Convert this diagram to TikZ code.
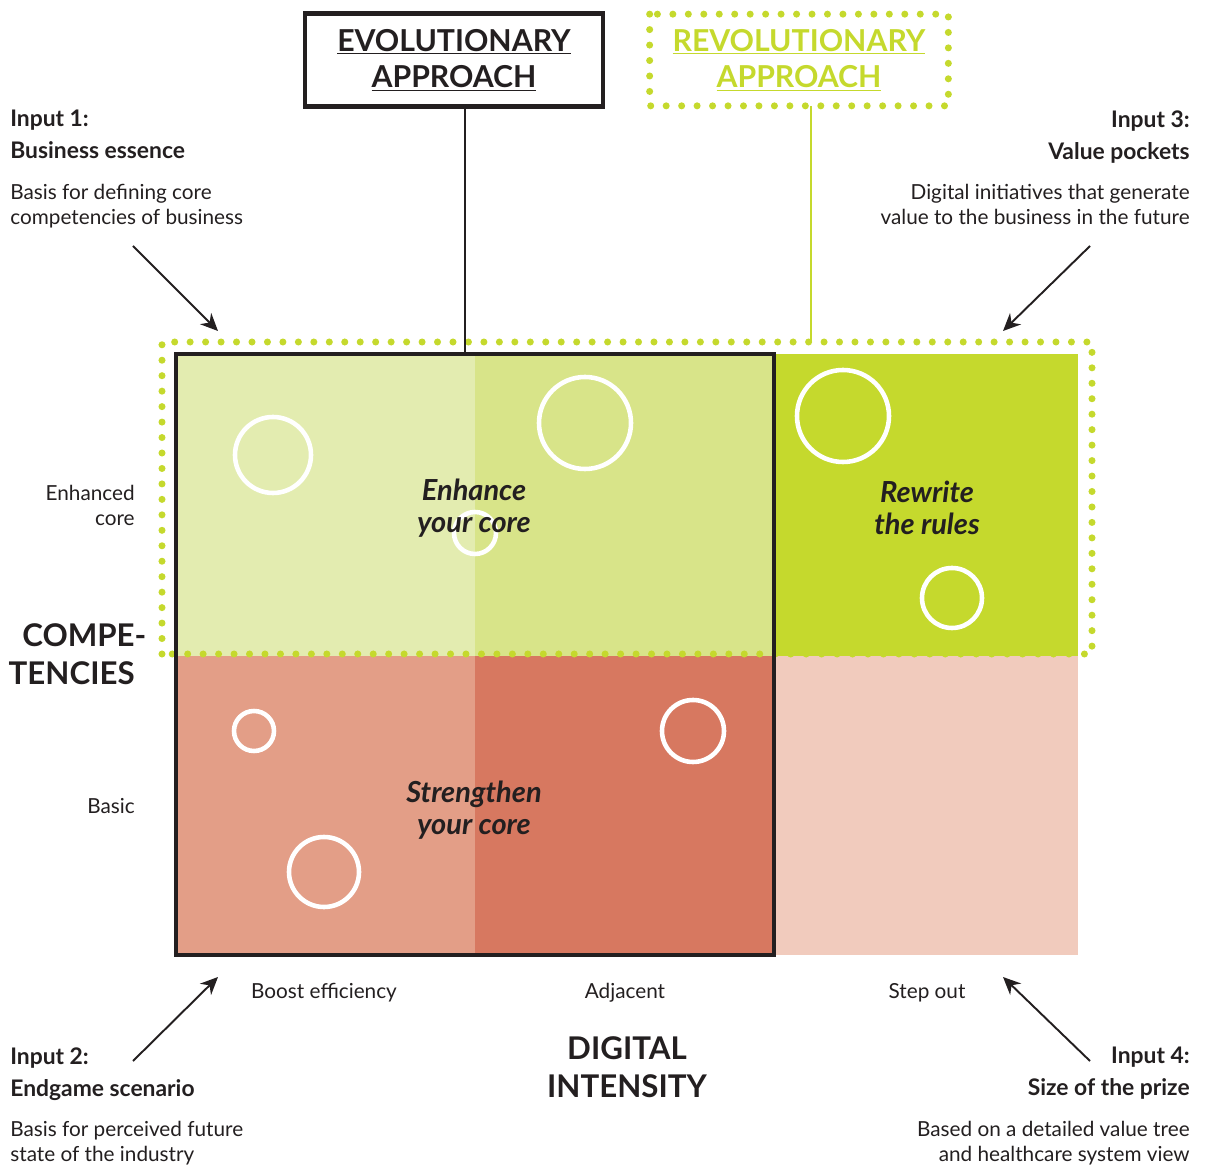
\documentclass[tikz,border=0pt]{standalone}
\usepackage{fontspec}
\setmainfont{Lato}
\usetikzlibrary{positioning, arrows.meta}
\definecolor{paleGreen}{HTML}{E3ECB0}
\definecolor{midGreen}{HTML}{D8E489}
\definecolor{limeGreen}{HTML}{C5D92D}
\definecolor{palePink}{HTML}{E39E87}
\definecolor{rustRed}{HTML}{D77860}
\definecolor{lightPink}{HTML}{F1CBBD}
\definecolor{inkBlack}{HTML}{231F20}

\begin{document}
\begin{tikzpicture}[x=0.02cm, y=-0.02cm, >={Stealth[length=10pt, width=9pt]},
    every node/.style={inner sep=0pt, text=inkBlack},
    body/.style={font=\fontsize{11.8}{14.2}\selectfont},
    head/.style={font=\fontsize{13}{18.2}\selectfont\bfseries},
    axis/.style={font=\fontsize{17.8}{21.5}\selectfont\bfseries, align=center},
    quad/.style={font=\fontsize{16.5}{18.5}\selectfont\bfseries\itshape, align=center},
    approach/.style={font=\fontsize{17.2}{20.5}\selectfont\bfseries, align=center},
    ring/.style={draw=white, line width=2.6pt},
    dots/.style={draw=limeGreen, line width=4pt, line cap=round, dash pattern=on 0pt off 8.8pt},
    pointer/.style={->, draw=inkBlack, line width=1.1pt}]
  \useasboundingbox (0,0) rectangle (1207,1168);

  % cells of the grid
  \fill[paleGreen] (176,354) rectangle (475,656);
  \fill[midGreen] (475,354) rectangle (775,656);
  \fill[limeGreen] (775,354) rectangle (1078,656);
  \fill[palePink] (176,656) rectangle (475,955);
  \fill[rustRed] (475,656) rectangle (775,955);
  \fill[lightPink] (775,656) rectangle (1078,955);

  % initiatives
  \foreach \cx/\cy/\r in {273/455/38, 585/423/46, 475/533/21, 843/416/46,
                          952/598/30, 254/731/20, 693/731/31, 324/872/35}
    \draw[ring] (\cx,\cy) circle (\r);

  % revolutionary scope
  \draw[dots] (162,654) -- (162,342) -- (1092,342) -- (1092,654) -- cycle;

  % evolutionary scope
  \draw[inkBlack, line width=2.4pt] (176,354) rectangle (774,955);

  % approach boxes
  \node[approach, draw=inkBlack, line width=2.4pt, minimum width=298*0.02cm, minimum height=93*0.02cm]
    (evo) at (454,60) {\underline{EVOLUTIONARY}\\\underline{APPROACH}};
  \node[approach, text=limeGreen, minimum width=298*0.02cm, minimum height=91*0.02cm]
    (revo) at (799,60) {\underline{REVOLUTIONARY}\\\underline{APPROACH}};
  \draw[dots] (revo.north west) rectangle (revo.south east);
  \coordinate (evoFoot) at (465,354);
  \coordinate (revoFoot) at (811,342);
  \draw[inkBlack, line width=0.6pt] (evo.south -| evoFoot) -- (evoFoot);
  \draw[limeGreen, line width=0.6pt] (revo.south -| revoFoot) -- (revoFoot);

  % quadrant labels
  \node[quad] (enhance) at (474,508) {Enhance\\your core};
  \node[quad] (rewrite) at (927,508) {Rewrite\\the rules};
  \node[quad] (strengthen) at (474,810) {Strengthen\\your core};

  % axes
  \node[body, align=right, anchor=east] (enhanced) at (135,505) {Enhanced\\core};
  \node[body, anchor=east] (basic) at (135,806) {Basic};
  \node[axis, align=right, anchor=east] (compet) at (135,654) {COMPE\rlap{-}\\TENCIES};
  \node[body] (boost) at (324,993) {Boost efficiency};
  \node[body] (adjacent) at (625,993) {Adjacent};
  \node[body] (stepout) at (927,993) {Step out};
  \node[axis] (digital) at (627,1067) {DIGITAL\\INTENSITY};

  % inputs
  \node[head, align=left, anchor=north west] (in1) at (10,110) {Input 1:\\Business essence\strut};
  \node[body, align=left, below right=8.7pt and 0pt of in1.south west] (in1txt)
    {Basis for defining core\\competencies of business};
  \node[head, align=right, anchor=north east] (in3) at (1190,110) {Input 3:\\Value pockets\strut};
  \node[body, align=right, below left=8.7pt and 0pt of in3.south east] (in3txt)
    {Digital initiatives that generate\\value to the business in the future};
  \node[head, align=left, anchor=north west] (in2) at (10,1047) {Input 2:\\Endgame scenario\strut};
  \node[body, align=left, below right=8.7pt and 0pt of in2.south west] (in2txt)
    {Basis for perceived future\\state of the industry};
  \node[head, align=right, anchor=north east] (in4) at (1190,1047) {Input 4:\\Size of the prize\strut};
  \node[body, align=right, below left=8.7pt and 0pt of in4.south east] (in4txt)
    {Based on a detailed value tree\\and healthcare system view};

  \coordinate (tail1) at (133,246);  \coordinate (tip1) at (218,331);
  \coordinate (tail3) at (1090,246); \coordinate (tip3) at (1003,331);
  \coordinate (tail2) at (133,1061); \coordinate (tip2) at (218,977);
  \coordinate (tail4) at (1090,1061); \coordinate (tip4) at (1003,977);
  \draw[pointer] (tail1) -- (tip1);
  \draw[pointer] (tail3) -- (tip3);
  \draw[pointer] (tail2) -- (tip2);
  \draw[pointer] (tail4) -- (tip4);
\end{tikzpicture}
\end{document}
